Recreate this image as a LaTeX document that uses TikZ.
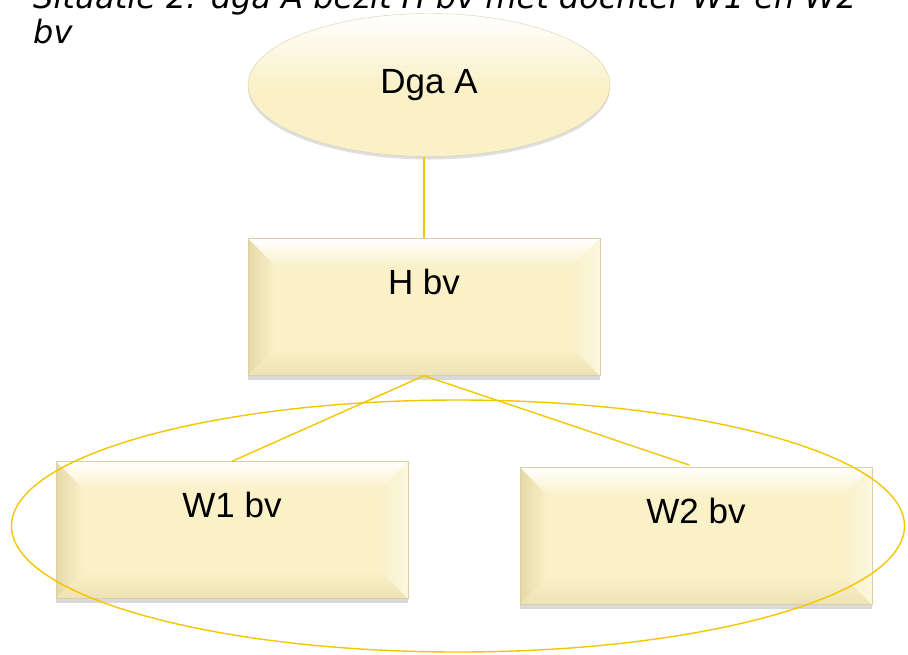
\documentclass[tikz,border=0pt]{standalone}
\usepackage{fontspec}
\setmainfont{Liberation Sans}
\newfontfamily\titlefont{DejaVu Sans}
\usetikzlibrary{shapes.geometric}
\usetikzlibrary{shadows}
\definecolor{lijn}{HTML}{F4C600}
\definecolor{vlak}{HTML}{FAF1C9}
\definecolor{donker}{HTML}{E6D9A6}
\definecolor{rand}{HTML}{D9CFA8}
\newcommand{\bevelw}{28pt}

\begin{document}
\begin{tikzpicture}[x=1pt, y=-1pt,
                    link/.style={draw=lijn, line width=1.4pt},
                    titel/.style={font=\titlefont\itshape\fontsize{32}{35}\selectfont,
                                  align=left, inner sep=0pt},
                    kop/.style={ellipse, minimum width=362pt, minimum height=143pt,
                                draw=rand, line width=0.4pt,
                                top color=white, bottom color=vlak, middle color=vlak,
                                drop shadow={opacity=0.25, shadow xshift=0pt, shadow yshift=-3pt},
                                font=\fontsize{35}{40}\selectfont},
                    bvbox/.style={rectangle, minimum width=352pt, minimum height=137pt,
                                  fill=vlak, draw=rand, line width=0.4pt,
                                  drop shadow={opacity=0.3, shadow xshift=0pt, shadow yshift=-4pt},
                                  font=\fontsize{35}{40}\selectfont,
                                  text height=26pt, text depth=52pt,
                                  path picture={
                                    \coordinate (nw) at (path picture bounding box.north west);
                                    \coordinate (ne) at (path picture bounding box.north east);
                                    \coordinate (sw) at (path picture bounding box.south west);
                                    \coordinate (se) at (path picture bounding box.south east);
                                    \shade[top color=white, bottom color=vlak]
                                      (nw) -- (ne) -- ([shift={(-\bevelw,-\bevelw)}]ne)
                                      -- ([shift={(\bevelw,-\bevelw)}]nw) -- cycle;
                                    \shade[left color=donker, right color=vlak]
                                      (nw) -- ([shift={(\bevelw,-\bevelw)}]nw)
                                      -- ([shift={(\bevelw,\bevelw)}]sw) -- (sw) -- cycle;
                                    \shade[bottom color=donker!60!vlak, top color=vlak]
                                      (sw) -- ([shift={(\bevelw,\bevelw)}]sw)
                                      -- ([shift={(-\bevelw,\bevelw)}]se) -- (se) -- cycle;
                                    \shade[right color=vlak!60!white, left color=vlak]
                                      (ne) -- ([shift={(-\bevelw,-\bevelw)}]ne)
                                      -- ([shift={(-\bevelw,\bevelw)}]se) -- (se) -- cycle;
                                  }},
                    groep/.style={ellipse, draw=lijn, line width=1.4pt,
                                  minimum width=893pt, minimum height=252pt}]
    \useasboundingbox (0,0) rectangle (908,654);

    \node[titel, anchor=base west] (titel) at (33,43)
        {Situatie 2: dga A bezit H bv met dochter W1 en W2\\bv};

    \node[kop] (dga) at (429,85) {Dga A};
    \node[bvbox] (h) at (424,307) {H bv};
    \node[bvbox] (w1) at (232,530) {W1 bv};
    \node[bvbox] (w2) at (696,536) {W2 bv};

    \draw[link] (dga.south -| h.north) -- (h.north);
    \draw[link] (h.south) -- (w1.north);
    \draw[link, shorten >=7pt] (h.south) -- (w2.north);

    \node[groep] (groep) at (458,526) {};
\end{tikzpicture}
\end{document}
